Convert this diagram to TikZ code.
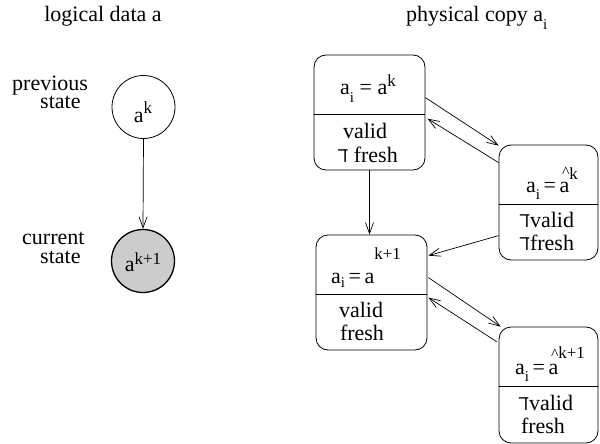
\documentclass[tikz,border=0pt]{standalone}
\usepackage{fontspec}
\setmainfont{Liberation Serif}
\newfontfamily\negfont{Noto Sans}
\usetikzlibrary{arrows.meta}

% raised / lowered small indices, shift given in pt
\newcommand\lsub[2][7]{\raisebox{-#1pt}{\scalebox{0.68}{#2}}}
\newcommand\lsup[2][9]{\raisebox{#1pt}{\scalebox{0.77}{#2}}}
% a with a free-standing hat
\newcommand\ahat{\rlap{\hspace{2.5pt}\raisebox{15pt}{\scalebox{0.72}{\char"5E}}}a}
% negation sign
\newcommand\lneg{{\negfont ℸ}}

\begin{document}
\begin{tikzpicture}[x=1pt,y=-1pt,
  txt/.style={font=\fontsize{22}{19}\selectfont, inner sep=0pt, anchor=base},
  twoline/.style={txt, align=left, anchor=base west},
  logstate/.style={circle, draw, line width=0.8pt, minimum size=63pt, inner sep=0pt},
  curstate/.style={logstate, fill=black!20, line width=1.3pt},
  copybox/.style={draw, line width=0.8pt, rounded corners=12pt, inner sep=0pt},
  divider/.style={line width=0.8pt},
  arr/.style={line width=0.7pt, -{Straight Barb[length=11pt,width=8pt,line width=0.7pt]}}]

\useasboundingbox (0,0) rectangle (600,444);

% ---- logical data ----
\node[txt] (tl) at (103,22) {logical data a};
\node[logstate] (c1) at (143.5,107) {};
\node[curstate] (c2) at (143,261) {};
\node[txt] (c1t) at (143,122) {a\lsup[9]{k}};
\node[txt] (c2t) at (143,271) {a\lsup[7]{k+1}};
\node[twoline] (p) at (12,109) {previous\\\hspace*{28pt}state};
\node[twoline] (q) at (22,263) {current\\\hspace*{18pt}state};
\draw[arr] (c1.south) -- (c2.north);

% ---- physical copies ----
\node[txt, anchor=base west] (tr) at (406,22) {physical copy a\lsub[8]{i}};

\node[copybox, minimum width=111pt, minimum height=115pt] (b1) at (369.5,112.5) {};
\node[copybox, minimum width=99pt, minimum height=115pt] (b2) at (548.5,202.5) {};
\node[copybox, minimum width=111pt, minimum height=115pt] (b3) at (371.5,292.5) {};
\node[copybox, minimum width=99pt, minimum height=116pt] (b4) at (548.5,385) {};

% dividers between value and flags
\draw[divider] ([yshift=-60pt]b1.north west) -- ([yshift=-60pt]b1.north east);
\draw[divider] ([yshift=-60pt]b2.north west) -- ([yshift=-60pt]b2.north east);
\draw[divider] ([yshift=-60pt]b3.north west) -- ([yshift=-60pt]b3.north east);
\draw[divider] ([yshift=-60pt]b4.north west) -- ([yshift=-60pt]b4.north east);

% box contents
\node[txt] (b1v) at (368,95) {a\lsub[8]{i} = a\lsup[9]{k}};
\node[txt] (b1f) at (365,138) {valid};
\node[txt] (b1g) at (368,162) {\lneg\ fresh};

\node[txt] (b2v) at (552,192) {a\lsub[7]{i}\,=\,\ahat\lsup[13]{k}};
\node[txt] (b2f) at (547,227) {\lneg valid};
\node[txt] (b2g) at (547,250) {\lneg fresh};

\node[txt] (b3v) at (366,283) {a\lsub[4]{i}\,=\,a\lsup[24]{k+1}};
\node[txt] (b3f) at (361,317) {valid};
\node[txt] (b3g) at (362,340) {fresh};

\node[txt] (b4v) at (550,374) {a\lsub[7]{i}\,=\,\ahat\lsup[16]{k+1}};
\node[txt] (b4f) at (546,410) {\lneg valid};
\node[txt] (b4g) at (543,433) {fresh};

% transitions
\draw[arr] (b1.south) -- (b1.south |- b3.north);
\draw[arr] ([yshift=-43pt]b1.north east) -- ([yshift=-1pt]b2.north west);
\draw[arr] ([yshift=-18pt]b2.north west) -- ([xshift=2pt,yshift=-64pt]b1.north east);
\draw[arr] ([yshift=-91pt]b2.north west) -- ([xshift=1pt,yshift=-21pt]b3.north east);
\draw[arr] ([xshift=1pt,yshift=-43pt]b3.north east) -- ([xshift=2pt]b4.north west);
\draw[arr] ([xshift=-2pt,yshift=-15pt]b4.north west) -- ([xshift=1pt,yshift=-63pt]b3.north east);

\end{tikzpicture}
\end{document}
